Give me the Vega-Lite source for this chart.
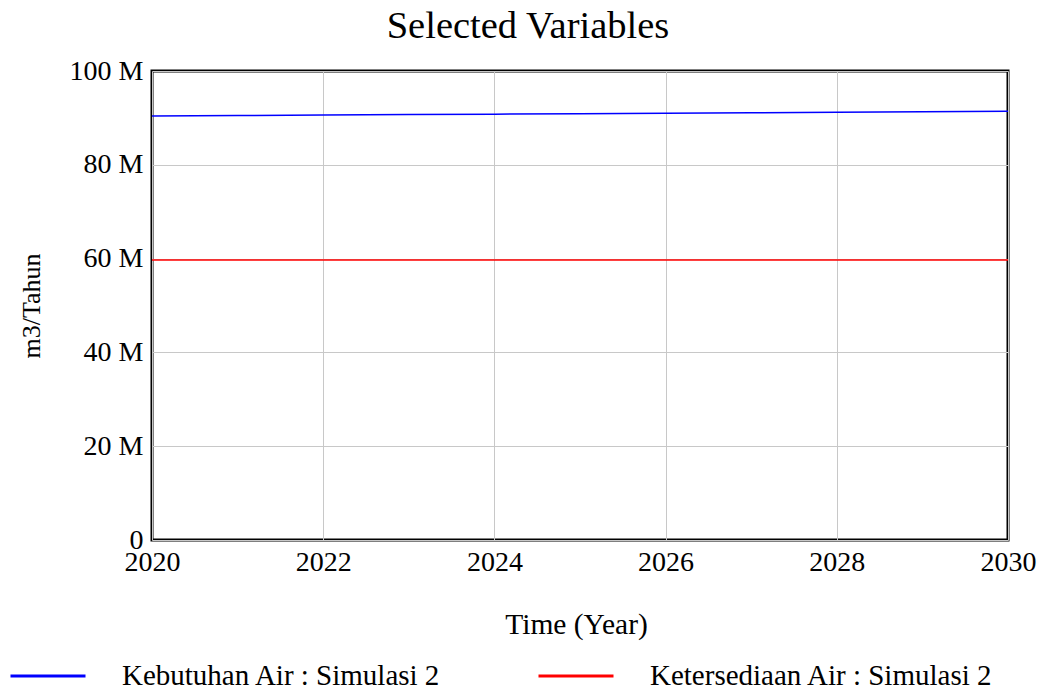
{
  "$schema": "https://vega.github.io/schema/vega-lite/v6.json",
  "autosize": {"type": "none"},
  "padding": {"left": 152, "top": 71, "right": 36, "bottom": 150},
  "width": 856,
  "height": 469,
  "background": "white",
  "title": {
    "text": "Selected Variables",
    "font": "Liberation Serif",
    "fontSize": 38.5,
    "fontWeight": "normal",
    "color": "black",
    "anchor": "middle",
    "frame": "group",
    "dx": -52,
    "baseline": "alphabetic",
    "offset": -19
  },
  "config": {
    "view": {"stroke": "black", "strokeWidth": 3},
    "font": "Liberation Serif"
  },
  "data": {
    "values": [
      {"year": 2020, "series": "Kebutuhan Air : Simulasi 2", "value": 90400000},
      {"year": 2021, "series": "Kebutuhan Air : Simulasi 2", "value": 90500000},
      {"year": 2022, "series": "Kebutuhan Air : Simulasi 2", "value": 90600000},
      {"year": 2023, "series": "Kebutuhan Air : Simulasi 2", "value": 90700000},
      {"year": 2024, "series": "Kebutuhan Air : Simulasi 2", "value": 90800000},
      {"year": 2025, "series": "Kebutuhan Air : Simulasi 2", "value": 90900000},
      {"year": 2026, "series": "Kebutuhan Air : Simulasi 2", "value": 91000000},
      {"year": 2027, "series": "Kebutuhan Air : Simulasi 2", "value": 91100000},
      {"year": 2028, "series": "Kebutuhan Air : Simulasi 2", "value": 91200000},
      {"year": 2029, "series": "Kebutuhan Air : Simulasi 2", "value": 91300000},
      {"year": 2030, "series": "Kebutuhan Air : Simulasi 2", "value": 91400000},
      {"year": 2020, "series": "Ketersediaan Air : Simulasi 2", "value": 59700000},
      {"year": 2021, "series": "Ketersediaan Air : Simulasi 2", "value": 59700000},
      {"year": 2022, "series": "Ketersediaan Air : Simulasi 2", "value": 59700000},
      {"year": 2023, "series": "Ketersediaan Air : Simulasi 2", "value": 59700000},
      {"year": 2024, "series": "Ketersediaan Air : Simulasi 2", "value": 59700000},
      {"year": 2025, "series": "Ketersediaan Air : Simulasi 2", "value": 59700000},
      {"year": 2026, "series": "Ketersediaan Air : Simulasi 2", "value": 59700000},
      {"year": 2027, "series": "Ketersediaan Air : Simulasi 2", "value": 59700000},
      {"year": 2028, "series": "Ketersediaan Air : Simulasi 2", "value": 59700000},
      {"year": 2029, "series": "Ketersediaan Air : Simulasi 2", "value": 59700000},
      {"year": 2030, "series": "Ketersediaan Air : Simulasi 2", "value": 59700000}
    ]
  },
  "mark": {"type": "line", "strokeWidth": 1.5},
  "encoding": {
    "x": {
      "field": "year",
      "type": "quantitative",
      "scale": {"domain": [2020, 2030], "nice": false, "zero": false},
      "axis": {
        "values": [2020, 2022, 2024, 2026, 2028, 2030],
        "format": "d",
        "labelFlush": false,
        "labelFont": "Liberation Serif",
        "labelFontSize": 28,
        "labelColor": "black",
        "labelPadding": 8,
        "ticks": false,
        "domain": false,
        "grid": true,
        "gridColor": "#c8c8c8",
        "gridWidth": 1,
        "title": "Time (Year)",
        "titleFont": "Liberation Serif",
        "titleFontSize": 29.5,
        "titleFontWeight": "normal",
        "titleColor": "black",
        "titleX": 424,
        "titleY": 84,
        "titleBaseline": "middle"
      }
    },
    "y": {
      "field": "value",
      "type": "quantitative",
      "scale": {"domain": [0, 100000000], "nice": false},
      "axis": {
        "values": [0, 20000000, 40000000, 60000000, 80000000, 100000000],
        "labelExpr": "datum.value == 0 ? '0' : (datum.value / 1000000) + ' M'",
        "labelFont": "Liberation Serif",
        "labelFontSize": 28,
        "labelColor": "black",
        "labelPadding": 9,
        "ticks": false,
        "domain": false,
        "grid": true,
        "gridColor": "#c8c8c8",
        "gridWidth": 1,
        "title": "m3/Tahun",
        "titleFont": "Liberation Serif",
        "titleFontSize": 26,
        "titleFontWeight": "normal",
        "titleColor": "black",
        "titleAngle": -90,
        "titleX": -121,
        "titleY": 234.5,
        "titleBaseline": "middle",
        "titleAlign": "center"
      }
    },
    "color": {
      "field": "series",
      "type": "nominal",
      "scale": {
        "domain": ["Kebutuhan Air : Simulasi 2", "Ketersediaan Air : Simulasi 2"],
        "range": ["#0000ff", "#ff0000"]
      },
      "legend": {
        "title": null,
        "orient": "none",
        "legendX": -143,
        "legendY": 566,
        "direction": "horizontal",
        "columns": 2,
        "columnPadding": 91,
        "symbolType": "stroke",
        "symbolSize": 5625,
        "symbolStrokeWidth": 3,
        "labelOffset": 35,
        "labelFont": "Liberation Serif",
        "labelFontSize": 29,
        "labelColor": "black",
        "labelLimit": 500
      }
    }
  }
}
